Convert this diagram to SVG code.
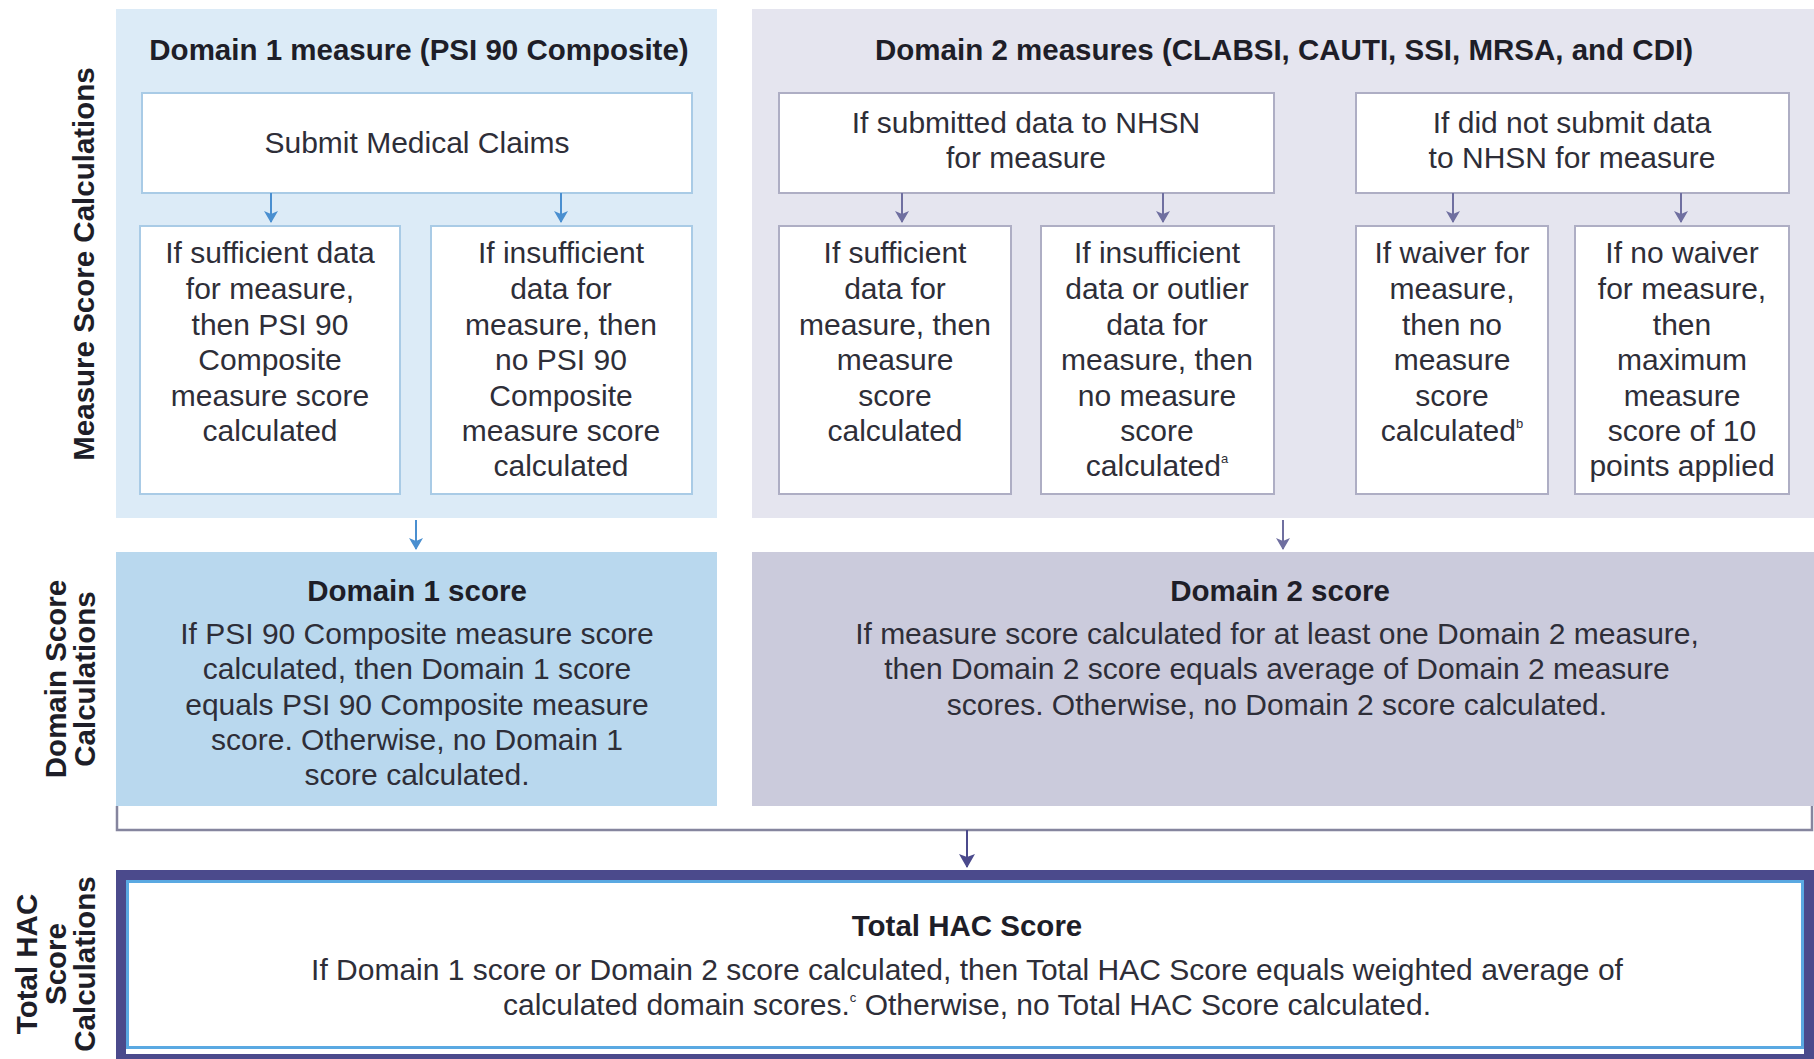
<svg xmlns="http://www.w3.org/2000/svg" width="1814" height="1059" viewBox="0 0 1814 1059">
<defs>
<style>
text{font-family:"Liberation Sans",Arial,sans-serif;fill:#2e2e38;text-anchor:middle}
.t{font-size:30px}
.b{font-size:29.5px;font-weight:bold;fill:#1e1e28}
.lab{font-size:29.5px;font-weight:bold;fill:#1e1e28}
.box1{fill:#ffffff;stroke:#a9cbe6;stroke-width:2}
.box2{fill:#ffffff;stroke:#aeaec4;stroke-width:2}
.a1{stroke:#4a8fd0;stroke-width:2;fill:none}
.a2{stroke:#6f6fa0;stroke-width:2;fill:none}
</style>
<marker id="m1" viewBox="0 0 14 12" refX="7" refY="11" markerWidth="14" markerHeight="12" markerUnits="userSpaceOnUse">
<path d="M0,0 L7,3 L14,0 L7,12 Z" fill="#4a8fd0"/>
</marker>
<marker id="m2" viewBox="0 0 14 12" refX="7" refY="11" markerWidth="14" markerHeight="12" markerUnits="userSpaceOnUse">
<path d="M0,0 L7,3 L14,0 L7,12 Z" fill="#6f6fa0"/>
</marker>
<marker id="m3" viewBox="0 0 16 14" refX="8" refY="13" markerWidth="16" markerHeight="14" markerUnits="userSpaceOnUse">
<path d="M0,0 L8,3 L16,0 L8,14 Z" fill="#4b4a8c"/>
</marker>
</defs>
<rect width="1814" height="1059" fill="#ffffff"/>

<!-- side labels -->
<g id="label-measure">
<text class="lab" transform="translate(94,264) rotate(-90)">Measure Score Calculations</text>
</g>
<g id="label-domain">
<text class="lab" transform="translate(66,679) rotate(-90)">Domain Score</text>
<text class="lab" transform="translate(95,679) rotate(-90)">Calculations</text>
</g>
<g id="label-total">
<text class="lab" transform="translate(37,964) rotate(-90)">Total HAC</text>
<text class="lab" transform="translate(66,964) rotate(-90)">Score</text>
<text class="lab" transform="translate(95,964) rotate(-90)">Calculations</text>
</g>

<!-- Domain 1 panel -->
<g id="domain1-panel">
<rect x="116" y="9" width="601" height="509" fill="#dcebf7"/>
<text class="b" x="419" y="60">Domain 1 measure (PSI 90 Composite)</text>
</g>
<g id="submit-claims">
<rect class="box1" x="142" y="93" width="550" height="100"/>
<text class="t" x="417" y="153">Submit Medical Claims</text>
</g>
<g id="d1-sufficient">
<rect class="box1" x="140" y="226" width="260" height="268"/>
<text class="t" x="270" y="263">If sufficient data</text>
<text class="t" x="270" y="299">for measure,</text>
<text class="t" x="270" y="335">then PSI 90</text>
<text class="t" x="270" y="370">Composite</text>
<text class="t" x="270" y="406">measure score</text>
<text class="t" x="270" y="441">calculated</text>
</g>
<g id="d1-insufficient">
<rect class="box1" x="431" y="226" width="261" height="268"/>
<text class="t" x="561" y="263">If insufficient</text>
<text class="t" x="561" y="299">data for</text>
<text class="t" x="561" y="335">measure, then</text>
<text class="t" x="561" y="370">no PSI 90</text>
<text class="t" x="561" y="406">Composite</text>
<text class="t" x="561" y="441">measure score</text>
<text class="t" x="561" y="476">calculated</text>
</g>

<!-- Domain 2 panel -->
<g id="domain2-panel">
<rect x="752" y="9" width="1062" height="509" fill="#e5e5ef"/>
<text class="b" x="1284" y="60">Domain 2 measures (CLABSI, CAUTI, SSI, MRSA, and CDI)</text>
</g>
<g id="nhsn-submitted">
<rect class="box2" x="779" y="93" width="495" height="100"/>
<text class="t" x="1026" y="133">If submitted data to NHSN</text>
<text class="t" x="1026" y="168">for measure</text>
</g>
<g id="nhsn-not-submitted">
<rect class="box2" x="1356" y="93" width="433" height="100"/>
<text class="t" x="1572" y="133">If did not submit data</text>
<text class="t" x="1572" y="168">to NHSN for measure</text>
</g>
<g id="d2-sufficient">
<rect class="box2" x="779" y="226" width="232" height="268"/>
<text class="t" x="895" y="263">If sufficient</text>
<text class="t" x="895" y="299">data for</text>
<text class="t" x="895" y="335">measure, then</text>
<text class="t" x="895" y="370">measure</text>
<text class="t" x="895" y="406">score</text>
<text class="t" x="895" y="441">calculated</text>
</g>
<g id="d2-insufficient">
<rect class="box2" x="1041" y="226" width="233" height="268"/>
<text class="t" x="1157" y="263">If insufficient</text>
<text class="t" x="1157" y="299">data or outlier</text>
<text class="t" x="1157" y="335">data for</text>
<text class="t" x="1157" y="370">measure, then</text>
<text class="t" x="1157" y="406">no measure</text>
<text class="t" x="1157" y="441">score</text>
<text class="t" x="1157" y="476">calculated<tspan font-size="13" dy="-13">a</tspan></text>
</g>
<g id="d2-waiver">
<rect class="box2" x="1356" y="226" width="192" height="268"/>
<text class="t" x="1452" y="263">If waiver for</text>
<text class="t" x="1452" y="299">measure,</text>
<text class="t" x="1452" y="335">then no</text>
<text class="t" x="1452" y="370">measure</text>
<text class="t" x="1452" y="406">score</text>
<text class="t" x="1452" y="441">calculated<tspan font-size="13" dy="-13">b</tspan></text>
</g>
<g id="d2-no-waiver">
<rect class="box2" x="1575" y="226" width="214" height="268"/>
<text class="t" x="1682" y="263">If no waiver</text>
<text class="t" x="1682" y="299">for measure,</text>
<text class="t" x="1682" y="335">then</text>
<text class="t" x="1682" y="370">maximum</text>
<text class="t" x="1682" y="406">measure</text>
<text class="t" x="1682" y="441">score of 10</text>
<text class="t" x="1682" y="476">points applied</text>
</g>

<!-- Domain scores -->
<g id="domain1-score">
<rect x="116" y="552" width="601" height="254" fill="#b9d8ee"/>
<text class="b" x="417" y="601">Domain 1 score</text>
<text class="t" x="417" y="644">If PSI 90 Composite measure score</text>
<text class="t" x="417" y="679">calculated, then Domain 1 score</text>
<text class="t" x="417" y="715">equals PSI 90 Composite measure</text>
<text class="t" x="417" y="750">score. Otherwise, no Domain 1</text>
<text class="t" x="417" y="785">score calculated.</text>
</g>
<g id="domain2-score">
<rect x="752" y="552" width="1062" height="254" fill="#cbcbdc"/>
<text class="b" x="1280" y="601">Domain 2 score</text>
<text class="t" x="1277" y="644">If measure score calculated for at least one Domain 2 measure,</text>
<text class="t" x="1277" y="679">then Domain 2 score equals average of Domain 2 measure</text>
<text class="t" x="1277" y="715">scores. Otherwise, no Domain 2 score calculated.</text>
</g>

<!-- Total HAC -->
<g id="total-hac">
<rect x="121" y="875" width="1688" height="184" fill="#ffffff" stroke="#4b4a8c" stroke-width="10"/>
<rect x="127.5" y="881.5" width="1675" height="166" fill="none" stroke="#5aa9e2" stroke-width="3"/>
<text class="b" x="967" y="936">Total HAC Score</text>
<text class="t" x="967" y="980">If Domain 1 score or Domain 2 score calculated, then Total HAC Score equals weighted average of</text>
<text class="t" x="967" y="1015">calculated domain scores.<tspan font-size="13" dy="-13">c</tspan><tspan dy="13"> Otherwise, no Total HAC Score calculated.</tspan></text>
</g>

<!-- connectors -->
<g id="connectors">
<line class="a1" x1="271" y1="193" x2="271" y2="222" marker-end="url(#m1)"/>
<line class="a1" x1="561" y1="193" x2="561" y2="222" marker-end="url(#m1)"/>
<line class="a2" x1="902" y1="193" x2="902" y2="222" marker-end="url(#m2)"/>
<line class="a2" x1="1163" y1="193" x2="1163" y2="222" marker-end="url(#m2)"/>
<line class="a2" x1="1453" y1="193" x2="1453" y2="222" marker-end="url(#m2)"/>
<line class="a2" x1="1681" y1="193" x2="1681" y2="222" marker-end="url(#m2)"/>
<line class="a1" x1="416" y1="520" x2="416" y2="549" marker-end="url(#m1)"/>
<line class="a2" x1="1283" y1="520" x2="1283" y2="549" marker-end="url(#m2)"/>
<path d="M117,806 V830 H1812 V806" fill="none" stroke="#85859e" stroke-width="2.5"/>
<line x1="967" y1="830" x2="967" y2="867" stroke="#4b4a8c" stroke-width="2" marker-end="url(#m3)"/>
</g>
</svg>
